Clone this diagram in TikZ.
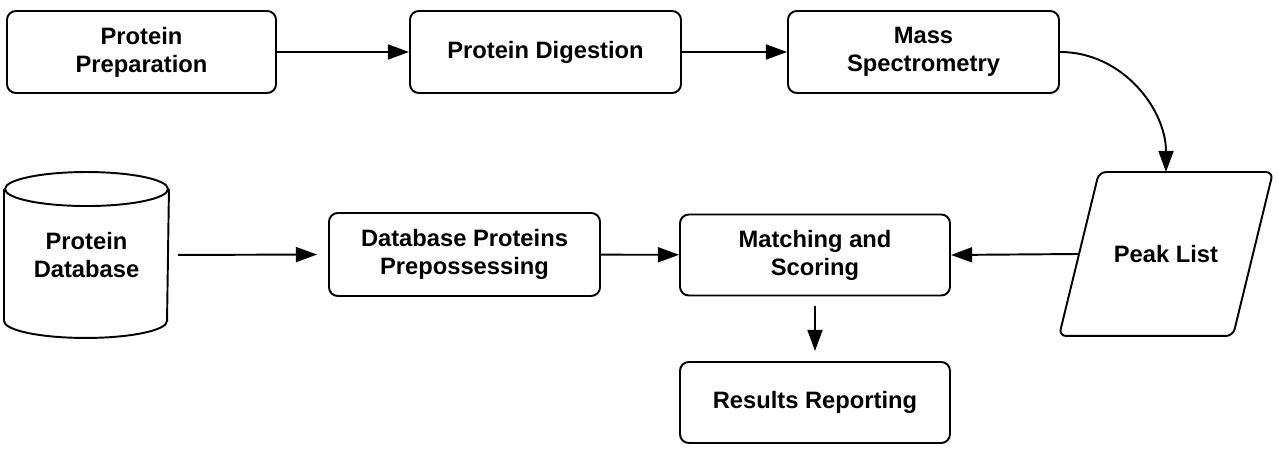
\documentclass[tikz,border=0pt]{standalone}
\usepackage{fontspec}
\setmainfont{Liberation Sans}
\usetikzlibrary{arrows.meta}

\begin{document}
\begin{tikzpicture}[x=1cm,y=1cm,
  every node/.style={font=\bfseries\fontsize{13.5}{16}\selectfont,align=center,line width=1.1pt},
  procbox/.style={draw,rounded corners=5pt,minimum width=5.42cm,minimum height=1.64cm},
  flow/.style={line width=1.1pt,-{Triangle[length=12pt,width=8.5pt]}}]
\path[use as bounding box] (0,0) rectangle (25.56,9.10);
\node[procbox,minimum width=5.38cm] (prep) at (2.83,8.06) {Protein\\Preparation};
\node[procbox] (digest) at (10.91,8.06) {Protein Digestion};
\node[procbox] (mass) at (18.47,8.06) {Mass\\Spectrometry};
\node[minimum width=4.24cm,minimum height=3.24cm] (peak) at (23.32,4.02) {Peak List};
\draw[line width=1.1pt,rounded corners=4pt] ([xshift=0.8cm]peak.north west) -- (peak.north east)
  -- ([xshift=-0.8cm]peak.south east) -- (peak.south west) -- cycle;
\coordinate (peakin) at ([xshift=0.4cm]peak.west);
\node[minimum width=3.26cm,minimum height=3.28cm] (db) at (1.73,4.00) {Protein\\Database};
\draw[line width=1.1pt] ([yshift=-0.34cm]db.north west) -- ([yshift=0.34cm]db.south west)
  arc[start angle=180,end angle=360,x radius=1.63cm,y radius=0.34cm] -- ([yshift=-0.34cm]db.north east);
\draw[line width=1.1pt] ([yshift=-0.34cm]db.north) ellipse[x radius=1.63cm,y radius=0.34cm];
\node[procbox,minimum height=1.66cm] (dbprep) at (9.29,4.01) {Database Proteins\\Prepossessing};
\node[procbox,minimum width=5.40cm,minimum height=1.62cm] (match) at (16.30,4.00) {Matching and\\Scoring};
\node[procbox,minimum width=5.40cm,minimum height=1.62cm] (report) at (16.30,1.05) {Results Reporting};
\draw[flow] (prep) -- (digest);
\draw[flow] (digest) -- (mass);
\draw[flow] (mass.east) to[out=0,in=90] (peak.north);
\draw[flow,shorten <=0.18cm,shorten >=0.22cm] (db.east) -- (dbprep.west);
\draw[flow] (dbprep) -- (match);
\draw[flow] (peakin) -- (match.east);
\draw[flow,shorten <=0.2cm,shorten >=0.2cm] (match) -- (report);
\end{tikzpicture}
\end{document}
